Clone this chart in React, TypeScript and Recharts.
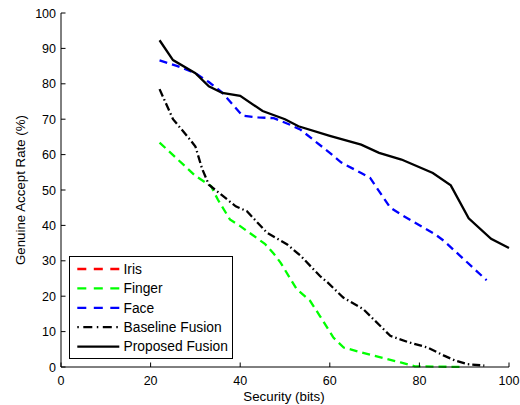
import React from 'react';
import { LineChart, Line, XAxis, YAxis } from 'recharts';

// ---- data ----
const xTicks = [0, 20, 40, 60, 80, 100];
const yTicks = [0, 10, 20, 30, 40, 50, 60, 70, 80, 90, 100];

const irisX: number[] = [];
const irisY: number[] = [];

const fingerX = [22, 30, 33.5, 35, 37.7, 40, 45.5, 47.5, 49, 52.6, 55.6, 57.8, 60.8, 63.1, 68.3, 75.8, 79, 90];
const fingerY = [63.4, 54, 51.1, 47.3, 41.7, 39.8, 34.8, 32, 29.5, 22, 18.7, 14.4, 8.3, 5.5, 3.7, 1.3, 0.2, 0];

const faceX = [22, 26, 30, 33, 36, 40.5, 44, 47.5, 51, 53.5, 60, 62.5, 67, 69, 73.5, 76, 83.5, 85.5, 95];
const faceY = [86.6, 85, 83, 80.5, 77.5, 71, 70.5, 70.3, 68.5, 67, 60.5, 57.8, 54.8, 53.4, 45, 43, 37.5, 35.6, 24.5];

const baselineX = [22, 25, 28.5, 30, 31.5, 33, 39, 41.5, 46, 50.5, 53.5, 57.8, 59.5, 63, 67.5, 73.5, 77.3, 81.8, 85.5, 88, 90.7, 94.5];
const baselineY = [78.5, 70, 64.7, 62.3, 56, 51.5, 45.4, 44, 37.9, 34.6, 31.4, 25.7, 23.9, 19.6, 16.3, 8.8, 7.1, 5.5, 3.2, 1.8, 0.8, 0.4];

const proposedX = [22, 25, 30, 33, 36, 40, 45, 50, 53, 60, 67, 71, 76, 83, 87, 91, 96, 100];
const proposedY = [92.3, 86.7, 83, 79.3, 77.4, 76.6, 72.3, 70, 68, 65.3, 62.8, 60.5, 58.6, 54.8, 51.3, 42, 36.2, 33.6];

const zip = (xs: number[], ys: number[]) => xs.map((x, i) => ({ x, y: ys[i] }));

const series = [
  { name: 'Iris', data: zip(irisX, irisY), color: '#ff0000', dash: '8 5', legendDash: '9 7.5' },
  { name: 'Finger', data: zip(fingerX, fingerY), color: '#00ff00', dash: '8 5', legendDash: '9 7.5' },
  { name: 'Face', data: zip(faceX, faceY), color: '#0000ff', dash: '8 5', legendDash: '9 7.5' },
  { name: 'Baseline Fusion', data: zip(baselineX, baselineY), color: '#000000', dash: '8 3 1.5 3', legendDash: '1.5 4.5 9 4.5' },
  { name: 'Proposed Fusion', data: zip(proposedX, proposedY), color: '#000000', dash: undefined, legendDash: undefined },
];

const FONT = '"Liberation Sans", Arial, Helvetica, sans-serif';

const XTick = (props: any) => {
  const { x, y, payload } = props;
  return (
    <g>
      <line x1={x} x2={x} y1={y} y2={y - 4.5} stroke="#000" strokeWidth={1} />
      <text x={x} y={y + 18} textAnchor="middle" fontSize={12.5} fontFamily={FONT} fill="#000">
        {payload.value}
      </text>
    </g>
  );
};

const YTick = (props: any) => {
  const { x, y, payload } = props;
  return (
    <g>
      <line x1={x} x2={x + 4.5} y1={y} y2={y} stroke="#000" strokeWidth={1} />
      <text x={x - 5} y={y + 4.5} textAnchor="end" fontSize={12.5} fontFamily={FONT} fill="#000">
        {payload.value}
      </text>
    </g>
  );
};

export default function App() {
  return (
    <div style={{ position: 'absolute', left: 0, top: 0, width: 520, height: 405, background: '#fff' }}>
      <LineChart width={520} height={405} margin={{ top: 13, right: 11, bottom: 0, left: 0 }}>
        <XAxis
          type="number"
          dataKey="x"
          domain={[0, 100]}
          ticks={xTicks}
          interval={0}
          height={38}
          tickSize={0}
          tickMargin={0}
          tickLine={false}
          tick={<XTick />}
          axisLine={{ stroke: '#000', strokeWidth: 1 }}
          allowDuplicatedCategory={false}
        />
        <YAxis
          type="number"
          domain={[0, 100]}
          ticks={yTicks}
          interval={0}
          width={61}
          tickSize={0}
          tickMargin={0}
          tickLine={false}
          tick={<YTick />}
          axisLine={{ stroke: '#000', strokeWidth: 1 }}
        />
        {series.map((s) => (
          <Line
            key={s.name}
            name={s.name}
            data={s.data}
            dataKey="y"
            type="linear"
            stroke={s.color}
            strokeWidth={2.3}
            strokeDasharray={s.dash}
            dot={false}
            activeDot={false}
            isAnimationActive={false}
          />
        ))}
        <text x={284} y={401} textAnchor="middle" fontSize={13.3} fontFamily={FONT} fill="#000">
          Security (bits)
        </text>
        <text
          x={25}
          y={190}
          transform="rotate(-90 25 190)"
          textAnchor="middle"
          fontSize={13.3}
          fontFamily={FONT}
          fill="#000"
        >
          Genuine Accept Rate (%)
        </text>
      </LineChart>
      <svg
        width={164}
        height={103}
        style={{ position: 'absolute', left: 69, top: 256 }}
      >
        <rect x={0.5} y={0.5} width={163} height={102} fill="#fff" stroke="#000" strokeWidth={1} />
        {series.map((s, i) => {
          const cy = 13 + i * 19.4;
          return (
            <g key={s.name}>
              <line
                x1={8.3}
                x2={50.3}
                y1={cy}
                y2={cy}
                stroke={s.color}
                strokeWidth={2.3}
                strokeDasharray={s.legendDash}
              />
              <text x={54.5} y={cy + 4.8} fontSize={13.8} fontFamily={FONT} fill="#000">
                {s.name}
              </text>
            </g>
          );
        })}
      </svg>
    </div>
  );
}
